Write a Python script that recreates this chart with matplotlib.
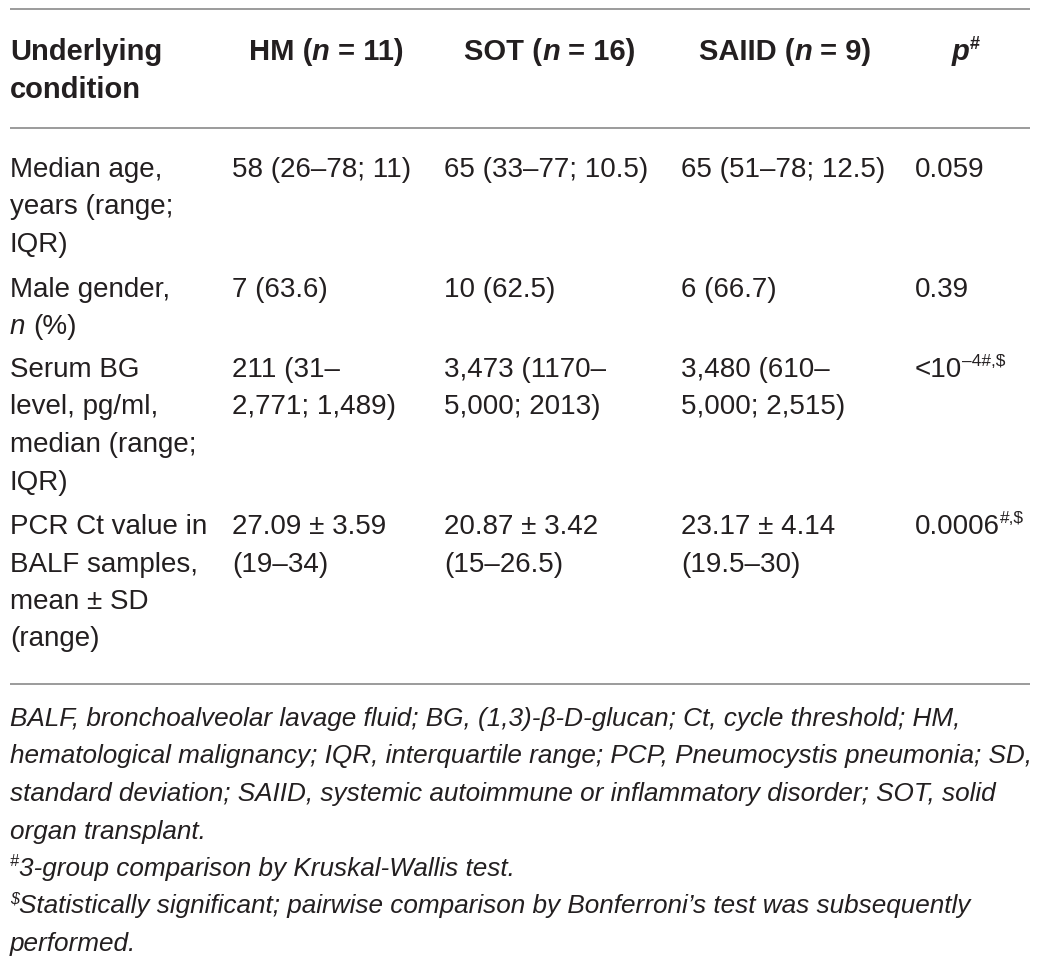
import matplotlib
matplotlib.use("Agg")
import matplotlib.pyplot as plt
from matplotlib import font_manager

# table content
header = ["Underlying\ncondition", "HM (*n* = 11)", "SOT (*n* = 16)", "SAIID (*n* = 9)", "*p*^{#}"]
conditions = ["Median age,\nyears (range;\nIQR)",
              "Male gender,\n*n* (%)",
              "Serum BG\nlevel, pg/ml,\nmedian (range;\nIQR)",
              "PCR Ct value in\nBALF samples,\nmean ± SD\n(range)"]
hm = ["58 (26–78; 11)", "7 (63.6)", "211 (31–\n2,771; 1,489)", "27.09 ± 3.59\n(19–34)"]
sot = ["65 (33–77; 10.5)", "10 (62.5)", "3,473 (1170–\n5,000; 2013)", "20.87 ± 3.42\n(15–26.5)"]
saiid = ["65 (51–78; 12.5)", "6 (66.7)", "3,480 (610–\n5,000; 2,515)", "23.17 ± 4.14\n(19.5–30)"]
p_values = ["0.059", "0.39", "<10^{–4#,$}", "0.0006^{#,$}"]
footnotes = ["BALF, bronchoalveolar lavage fluid; BG, (1,3)-β-D-glucan; Ct, cycle threshold; HM,",
             "hematological malignancy; IQR, interquartile range; PCP, Pneumocystis pneumonia; SD,",
             "standard deviation; SAIID, systemic autoimmune or inflammatory disorder; SOT, solid",
             "organ transplant.",
             "^{#}3-group comparison by Kruskal-Wallis test.",
             "^{$}Statistically significant; pairwise comparison by Bonferroni’s test was subsequently",
             "performed."]

W, H = 1039, 963
col_x = [10, 232, 444, 681, 915]
head_center = [None, 326, 550, 785, 966]   # data columns have centred headings
header_base = 60
row_base = [177, 297, 377, 534]
line_step = 37.5
rules_y = [9, 128, 684]
foot_base = 726
body_size = 20
head_size = 21
text_color = "#231f20"

names = {f.name for f in font_manager.fontManager.ttflist}
family = "Liberation Sans"
foot_family = "Liberation Sans Narrow" if "Liberation Sans Narrow" in names else "Liberation Sans"
foot_size = 20 if foot_family == "Liberation Sans Narrow" else 18.8

fig = plt.figure(figsize=(W / 100, H / 100), dpi=100)
ax = fig.add_axes([0, 0, 1, 1])
ax.set_xlim(0, W)
ax.set_ylim(H, 0)
ax.axis("off")
renderer = fig.canvas.get_renderer()


def parse(s):
    # '*' toggles italic, '^{..}' is superscript
    runs, buf, italic, sup, i = [], "", False, False, 0
    while i < len(s):
        c = s[i]
        if c == "*":
            if buf:
                runs.append((buf, italic, sup))
            buf, italic = "", not italic
        elif s.startswith("^{", i):
            if buf:
                runs.append((buf, italic, sup))
            buf, sup = "", True
            i += 1
        elif c == "}" and sup:
            if buf:
                runs.append((buf, italic, sup))
            buf, sup = "", False
        else:
            buf += c
        i += 1
    if buf:
        runs.append((buf, italic, sup))
    return runs


def width(s, **kw):
    t = ax.text(0, 0, s, **kw)
    w = t.get_window_extent(renderer).width
    t.remove()
    return w


def draw_runs(x, y, s, size, weight="normal", italic_all=False, fam=family):
    start, artists = x, []
    for text, italic, sup in parse(s):
        fs = size * 0.62 if sup else size
        yy = y - size * 100 / 72 * 0.38 if sup else y
        kw = dict(fontsize=fs, fontweight=weight, family=fam,
                  fontstyle="italic" if (italic or italic_all) else "normal")
        sp = width("n n", **kw) - width("nn", **kw)
        core = text.strip(" ")
        x += sp * (len(text) - len(text.lstrip(" ")))
        if core:
            t = ax.text(x, yy, core, va="baseline", ha="left", color=text_color, **kw)
            artists.append(t)
            x += t.get_window_extent(renderer).width
        x += sp * (len(text) - len(text.rstrip(" ")))
    return artists, x - start


def draw_cell(x, y, s, size=body_size, center=None, **kw):
    for k, line in enumerate(s.split("\n")):
        artists, w = draw_runs(x, y + k * line_step, line, size, **kw)
        if center is not None:
            for t in artists:
                t.set_x(t.get_position()[0] - x + center - w / 2)


for y in rules_y:
    ax.plot([10, 1030], [y, y], color="#8a8a8a", lw=1.2, solid_capstyle="butt")

for x, c, h in zip(col_x, head_center, header):
    draw_cell(x, header_base, h, size=head_size, center=c, weight="bold")

for r in range(len(conditions)):
    cells = [conditions[r], hm[r], sot[r], saiid[r], p_values[r]]
    for x, c in zip(col_x, cells):
        draw_cell(x, row_base[r], c)

for k, line in enumerate(footnotes):
    draw_runs(10, foot_base + k * line_step, line, foot_size, italic_all=True, fam=foot_family)

fig.savefig("out.png", dpi=100)
